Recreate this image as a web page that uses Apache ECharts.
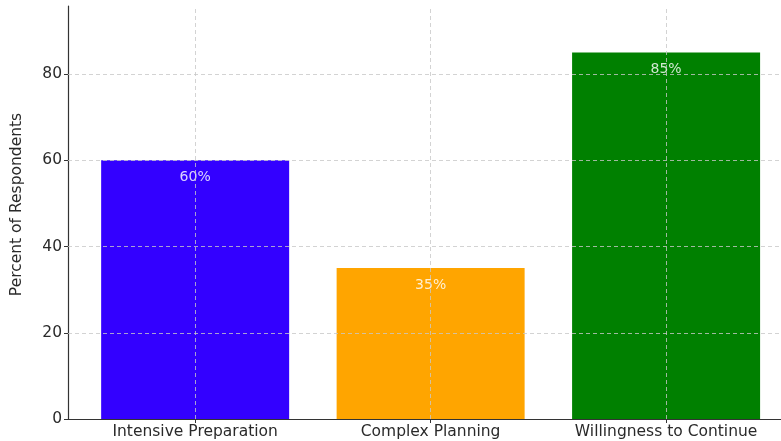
<!DOCTYPE html>
<html>
<head>
<meta charset="utf-8">
<script src="https://cdn.jsdelivr.net/npm/echarts@6/dist/echarts.min.js"></script>
<style>
  html, body { margin: 0; padding: 0; background: #ffffff; }
  #chart { width: 781px; height: 441px; }
</style>
</head>
<body>
<div id="chart"></div>
<script>
// Survey results: share of respondents per statement
const categories = ['Intensive Preparation', 'Complex Planning', 'Willingness to Continue'];
const percents = [60, 35, 85];
const barColors = ['#3300ff', '#ffa500', '#008000'];
const yTicks = [0, 20, 40, 60, 80];
const xTicks = [0, 1, 2];

const FONT = 'DejaVu Sans';
const gridStyle = { color: '#c8c8c8', type: [4, 3], width: 0.8 };

const chart = echarts.init(document.getElementById('chart'), null, { renderer: 'canvas' });

const barData = percents.map((v, i) => ({
  value: [xTicks[i], v],
  itemStyle: { color: barColors[i] }
}));

// dashed grid lines drawn over the bars
const gridLines = yTicks.filter(v => v > 0).map(v => ({ yAxis: v }))
  .concat(xTicks.map(x => ({ xAxis: x })));

chart.setOption({
  animation: false,
  textStyle: { fontFamily: FONT },
  grid: { left: 68, right: 0, top: 6, bottom: 22, containLabel: false },
  xAxis: {
    type: 'value',
    min: -0.54,
    max: 2.488,
    axisLine: { show: true, onZero: false, lineStyle: { color: '#333', width: 1.2 } },
    axisTick: { show: true, length: 4, customValues: xTicks, lineStyle: { color: '#333' } },
    axisLabel: {
      customValues: xTicks,
      margin: 5,
      fontSize: 15.5,
      color: '#2a2a2a',
      fontFamily: FONT,
      formatter: v => (Number.isInteger(v) && categories[v] !== undefined) ? categories[v] : ''
    },
    splitLine: { show: false }
  },
  yAxis: {
    type: 'value',
    min: 0,
    max: 95.8,
    name: 'Percent of Respondents',
    nameLocation: 'middle',
    nameGap: 43,
    nameRotate: 90,
    nameTextStyle: { fontSize: 15.5, color: '#2a2a2a', fontFamily: FONT, padding: [0, 0, 0, 16] },
    axisLine: { show: true, onZero: false, lineStyle: { color: '#333', width: 1.2 } },
    axisTick: { show: true, length: 4, customValues: yTicks, lineStyle: { color: '#333' } },
    axisLabel: {
      customValues: yTicks,
      margin: 6,
      fontSize: 15.5,
      color: '#2a2a2a',
      fontFamily: FONT,
      formatter: v => (yTicks.indexOf(v) >= 0 ? String(v) : '')
    },
    splitLine: { show: false }
  },
  series: [{
    type: 'bar',
    data: barData,
    barWidth: 188,
    label: {
      show: true,
      position: 'insideTop',
      distance: 10,
      fontSize: 14,
      fontFamily: FONT,
      color: 'rgba(255,255,255,0.82)',
      formatter: p => p.value[1] + '%'
    },
    markLine: {
      silent: true,
      symbol: ['none', 'none'],
      label: { show: false },
      lineStyle: gridStyle,
      data: gridLines,
      z: 5
    }
  }]
});
</script>
</body>
</html>
